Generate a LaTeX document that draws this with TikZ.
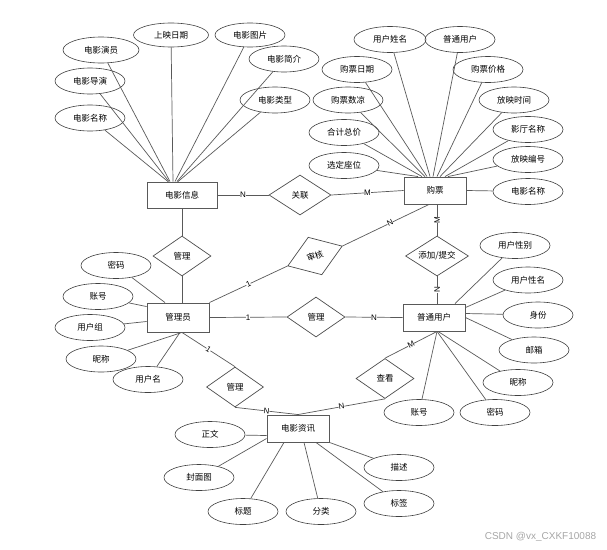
\documentclass[tikz,border=0pt]{standalone}
\usepackage{fontspec}
\setmainfont{Noto Sans CJK SC}
\newfontfamily\latinfont{Liberation Sans}
\usetikzlibrary{shapes.geometric,calc}
\begin{document}
\begin{tikzpicture}[x=1pt,y=-1pt,
  every node/.style={font=\fontsize{8.5}{10}\selectfont, inner sep=0pt},
  ent/.style={draw=black!65, line width=0.9pt, minimum width=62pt, minimum height=27pt, fill=white},
  attr/.style={ellipse, draw=black!75, line width=0.6pt, minimum width=70pt, minimum height=26pt},
  rel/.style={diamond, draw=black!70, line width=0.7pt, minimum width=58pt, minimum height=40pt, aspect=1.5},
  conn/.style={draw=black!65, line width=0.7pt},
  card/.style={font=\latinfont\fontsize{8}{9}\selectfont, fill=white, inner sep=0pt},
]
\useasboundingbox (0,0) rectangle (607,549);

% entities
\node[ent, minimum width=70pt, minimum height=26pt] (film) at (182,195) {电影信息};
\node[ent] (ticket) at (435,190.5) {购票};
\node[ent, minimum height=29pt] (admin) at (178,317.5) {管理员};
\node[ent] (user) at (434,317.5) {普通用户};
\node[ent] (news) at (298,428.5) {电影资讯};

% relations
\node[rel, minimum width=62pt] (r1) at (300,195) {关联};
\node[rel] (r2) at (182,256) {管理};
\node[rel, rotate=20] (r3) at (315,256) {审核};
\node[rel, minimum width=63pt] (r4) at (437,256) {添加/提交};
\node[rel] (r5) at (316,317) {管理};
\node[rel, minimum width=57pt] (r6) at (235,387) {管理};
\node[rel] (r7) at (385,378.5) {查看};

% film attributes
\node[attr, minimum width=76pt] (fa1) at (101,50) {电影演员};
\node[attr, minimum width=75pt, minimum height=24pt] (fa2) at (171,35) {上映日期};
\node[attr, minimum height=24pt] (fa3) at (250,35) {电影图片};
\node[attr] (fa4) at (284,59) {电影简介};
\node[attr] (fa5) at (90,81) {电影导演};
\node[attr] (fa6) at (275,100) {电影类型};
\node[attr] (fa7) at (90,118) {电影名称};

% ticket attributes
\node[attr, minimum width=72pt] (ta1) at (390,39.5) {用户姓名};
\node[attr] (ta2) at (460,39.5) {普通用户};
\node[attr] (ta3) at (357,69.5) {购票日期};
\node[attr] (ta4) at (488,69.5) {购票价格};
\node[attr] (ta5) at (348,100) {购票数凉};
\node[attr] (ta6) at (514,100) {放映时间};
\node[attr] (ta7) at (344,132.5) {合计总价};
\node[attr] (ta8) at (528,129.5) {影厅名称};
\node[attr] (ta9) at (344,165.5) {选定座位};
\node[attr] (ta10) at (528,159.5) {放映编号};
\node[attr] (ta11) at (528,191.5) {电影名称};

% admin attributes
\node[attr] (aa1) at (116,265.5) {密码};
\node[attr] (aa2) at (98,296.5) {账号};
\node[attr] (aa3) at (90,327.5) {用户组};
\node[attr] (aa4) at (101,359) {昵称};
\node[attr] (aa5) at (148,379.5) {用户名};

% user attributes
\node[attr] (ua1) at (515,245.5) {用户性别};
\node[attr] (ua2) at (528,280) {用户性名};
\node[attr] (ua3) at (538,315) {身份};
\node[attr] (ua4) at (534,350) {邮箱};
\node[attr] (ua5) at (518,382.5) {昵称};
\node[attr] (ua6) at (495,412.5) {密码};
\node[attr] (ua7) at (419,412.5) {账号};

% news attributes
\node[attr] (na1) at (210,434.5) {正文};
\node[attr] (na2) at (199,477.5) {封面图};
\node[attr] (na3) at (243,511.5) {标题};
\node[attr] (na4) at (321,511.5) {分类};
\node[attr] (na5) at (399,467.5) {描述};
\node[attr] (na6) at (399,503.5) {标签};

% film attribute lines
\draw[conn] (fa1) -- ([xshift=-12pt]film.north);
\draw[conn] (fa2) -- ([xshift=-9pt]film.north);
\draw[conn] (fa3) -- ([xshift=-7pt]film.north);
\draw[conn] (fa4) -- ([xshift=-5pt]film.north);
\draw[conn] (fa5) -- ([xshift=-13pt]film.north);
\draw[conn] (fa6) -- ([xshift=-4pt]film.north);
\draw[conn] (fa7) -- ([xshift=-14pt]film.north);

% ticket attribute lines
\draw[conn] (ta1) -- ([xshift=-5pt]ticket.north);
\draw[conn] (ta2) -- ([xshift=-2pt]ticket.north);
\draw[conn] (ta3) -- ([xshift=-8pt]ticket.north);
\draw[conn] (ta4) -- ([xshift=2pt]ticket.north);
\draw[conn] (ta5) -- ([xshift=-10pt]ticket.north);
\draw[conn] (ta6) -- ([xshift=5pt]ticket.north);
\draw[conn] (ta7) -- ([xshift=-13pt]ticket.north);
\draw[conn] (ta8) -- ([xshift=10pt]ticket.north);
\draw[conn] (ta9) -- ([xshift=-17pt]ticket.north);
\draw[conn] (ta10) -- ([xshift=13pt]ticket.north);
\draw[conn] (ta11) -- (ticket.east);

% admin attribute lines
\draw[conn] (aa1) -- ([xshift=-13pt]admin.north);
\draw[conn] (aa2) -- ([yshift=-4pt]admin.north west);
\draw[conn] (aa3) -- ([yshift=-4pt]admin.west);
\draw[conn] (aa4) -- ([xshift=4pt]admin.south);
\draw[conn] (aa5) -- ([xshift=2pt]admin.south);

% user attribute lines
\coordinate (ubot) at ([xshift=3pt]user.south);
\draw[conn] (ua1) -- ([xshift=21pt]user.north);
\draw[conn] (ua2) -- ([yshift=-4pt]user.north east);
\draw[conn] (ua3) -- ([yshift=4pt]user.east);
\draw[conn] (ua4) -- (user.east);
\draw[conn] (ua5) -- ([xshift=4pt]user.south);
\draw[conn] (ua6) -- (ubot);
\draw[conn] (ua7) -- (ubot);

% news attribute lines
\draw[conn] (na1) -- ([yshift=-7pt]news.west);
\draw[conn] (na2) -- ([yshift=-10pt]news.west);
\draw[conn] (na3) -- ([xshift=-14pt]news.south);
\draw[conn] (na4) -- ([xshift=6pt]news.south);
\draw[conn] (na5) -- (news.south east);
\draw[conn] (na6) -- ([xshift=18pt]news.south);

% relationship lines
\draw[conn] (film.east) -- node[card]{N} (r1.west);
\draw[conn] (r1.east) -- node[card]{M} (ticket.west);
\draw[conn] (film.south) -- (r2.north);
\draw[conn] (r2.south) -- (r2.south |- admin.north);
\draw[conn] (admin.north east) -- node[card, sloped]{1} (r3.west);
\draw[conn] (r3.east) -- node[card, sloped, pos=0.55]{N} ([xshift=-6pt]ticket.south);
\draw[conn] ([xshift=2pt]ticket.south) -- node[card, rotate=90]{M} (r4.north);
\draw[conn] (r4.south) -- node[card, rotate=90]{N} (r4.south |- user.north);
\draw[conn] (admin.east) -- node[card]{1} (r5.west);
\draw[conn] (r5.east) -- node[card]{N} (user.west);
\draw[conn] ([xshift=4pt]admin.south) -- node[card, sloped]{1} (r6.north);
\draw[conn] (r6.south) -- node[card, sloped]{N} (news.north);
\draw[conn] (news.north) -- node[card, sloped]{N} (r7.south);
\draw[conn] (r7.north) -- node[card, sloped]{M} (ubot);

% watermark
\node[font=\latinfont\fontsize{10}{12}\selectfont, text=black!35] (wm) at (540.5,537) {CSDN @vx\_CXKF10088};
\end{tikzpicture}
\end{document}
